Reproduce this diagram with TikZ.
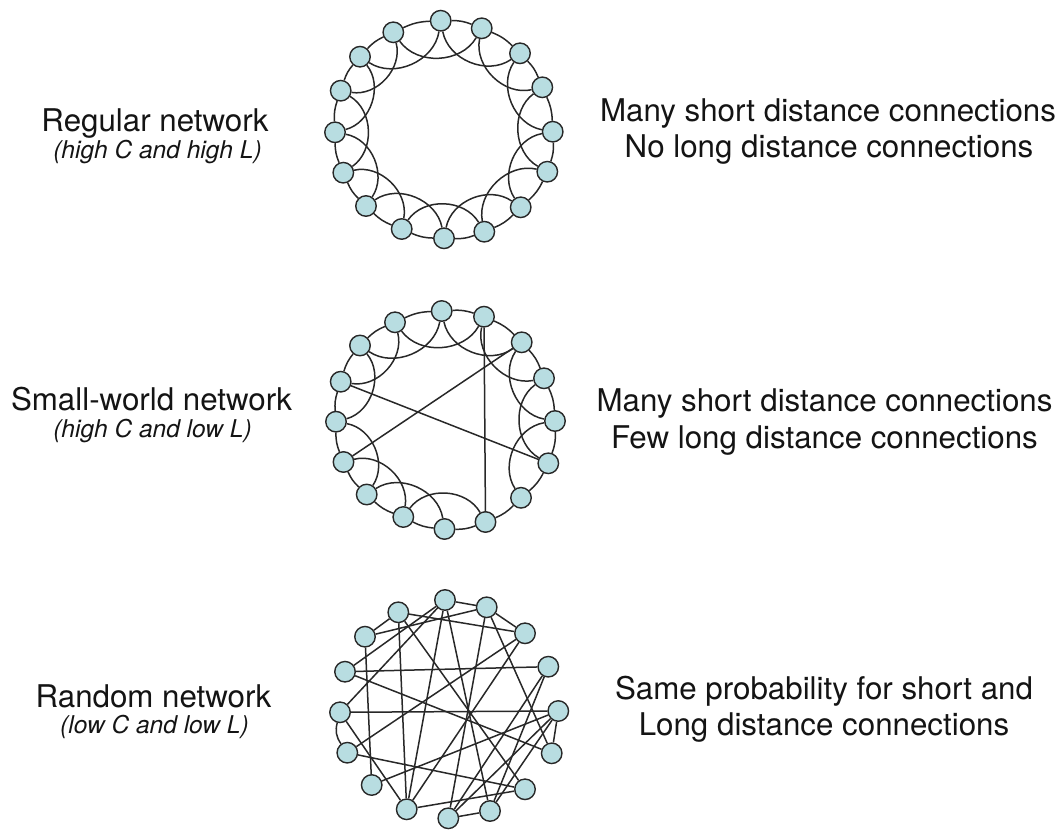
\documentclass[tikz,border=0pt]{standalone}
\usepackage{fontspec}
\setmainfont{TeX Gyre Heros}
\usetikzlibrary{backgrounds}
\definecolor{nodefill}{RGB}{184,221,225}
\definecolor{edgecol}{RGB}{40,40,40}
\definecolor{txtcol}{RGB}{20,20,20}
\begin{document}
\begin{tikzpicture}[x=1pt,y=-1pt,
  vtx/.style={circle,draw=edgecol,fill=nodefill,line width=1.4pt,minimum size=20.5pt,inner sep=0pt},
  lnk/.style={draw=edgecol,line width=1.5pt},
  ringlnk/.style={lnk,bend left=11},
  arclnk/.style={lnk,bend right=57},
  lbltitle/.style={font=\fontsize{31.3}{36}\selectfont,text=txtcol,anchor=base,inner sep=0pt},
  lblsub/.style={font=\fontsize{24.5}{29}\selectfont\itshape,text=txtcol,anchor=base,inner sep=0pt}]
\useasboundingbox (0,0) rectangle (1063,830);

% ---------- Regular network ----------
\foreach \i/\x/\y in {1/440.7/20.7, 2/481.7/28.3, 3/520/53.3, 4/542.3/87.3,
  5/552.7/131.7, 6/547.3/171.7, 7/520.7/207.3, 8/484.3/231.7, 9/444/238.3,
  10/401.7/229, 11/366/206, 12/343.3/172.7, 13/335/132.3, 14/340.7/90.7,
  15/360/56.7, 16/393.3/32.3}
  \node[vtx] (A\i) at (\x,\y) {};

% ---------- Small-world network ----------
\foreach \i/\x/\y in {1/441.7/311, 2/484/316.7, 3/521.7/342.3, 4/544/378.3,
  5/555/421, 6/548.3/463.3, 7/521/497.8, 8/485.5/522, 9/444.5/529,
  10/403.3/517, 11/366.7/494.5, 12/343.5/462, 13/336/421.7, 14/340.7/381.7,
  15/360/345.5, 16/395/322.3}
  \node[vtx] (B\i) at (\x,\y) {};

% ---------- Random network ----------
\foreach \i/\x/\y in {1/445/600, 2/486.7/607.3, 3/525/633.3, 4/548.3/666.7,
  5/558.3/711, 6/551.7/753.3, 7/525/789.3, 8/490/811, 9/448.3/818.3,
  10/406.7/809.3, 11/371.7/785, 12/347.3/752.7, 13/340/712.3, 14/345/671.7,
  15/365/636.7, 16/398.3/612.3}
  \node[vtx] (C\i) at (\x,\y) {};

\begin{pgfonlayer}{background}
  % regular: ring + second neighbours
  \foreach \i in {1,...,16}{
    \pgfmathtruncatemacro\j{mod(\i,16)+1}
    \pgfmathtruncatemacro\k{mod(\i+1,16)+1}
    \draw[ringlnk] (A\i) to (A\j);
    \draw[arclnk] (A\i) to (A\k);
    \draw[ringlnk] (B\i) to (B\j);
  }
  % small-world: remaining second-neighbour arcs
  \foreach \i/\k in {15/1, 16/2, 1/3, 2/4, 3/5, 4/6, 5/7, 8/10, 9/11,
    10/12, 11/13, 13/15, 14/16}
    \draw[arclnk] (B\i) to (B\k);
  % small-world: long links
  \draw[lnk] (B2) -- (B8);
  \draw[lnk] (B3) -- (B12);
  \draw[lnk] (B14) -- (B6);
  % random
  \foreach \a/\b in {1/2, 2/3, 15/16, 5/6, 8/9, 15/2, 16/3, 14/1, 13/1,
    16/10, 16/7, 15/11, 14/4, 14/6, 13/5, 1/8, 1/10, 2/9, 2/6, 5/9, 5/8,
    5/11, 12/7, 3/12, 3/10, 4/9, 4/8, 10/7, 13/10}
    \draw[lnk] (C\a) -- (C\b);
  \draw[lnk] (C12) to[bend left=25] (C13);
\end{pgfonlayer}

% ---------- labels ----------
\node[lbltitle] (t1) at (155,131) {Regular network};
\node[lblsub] (s1) at (157.5,158.3) {(high C and high L)};
\node[lbltitle] (t2) at (151.5,410) {Small-world network};
\node[lblsub] (s2) at (152.5,437) {(high C and low L)};
\node[lbltitle] (t3) at (153.5,707) {Random network};
\node[lblsub] (s3) at (154.5,733) {(low C and low L)};

\node[lbltitle] (r1a) at (828,121) {Many short distance connections};
\node[lbltitle] (r1b) at (829,157.7) {No long distance connections};
\node[lbltitle] (r2a) at (824.5,411) {Many short distance connections};
\node[lbltitle] (r2b) at (824.5,448) {Few long distance connections};
\node[lbltitle] (r3a) at (824,699) {Same probability for short and};
\node[lbltitle] (r3b) at (824,735.5) {Long distance connections};
\end{tikzpicture}
\end{document}
